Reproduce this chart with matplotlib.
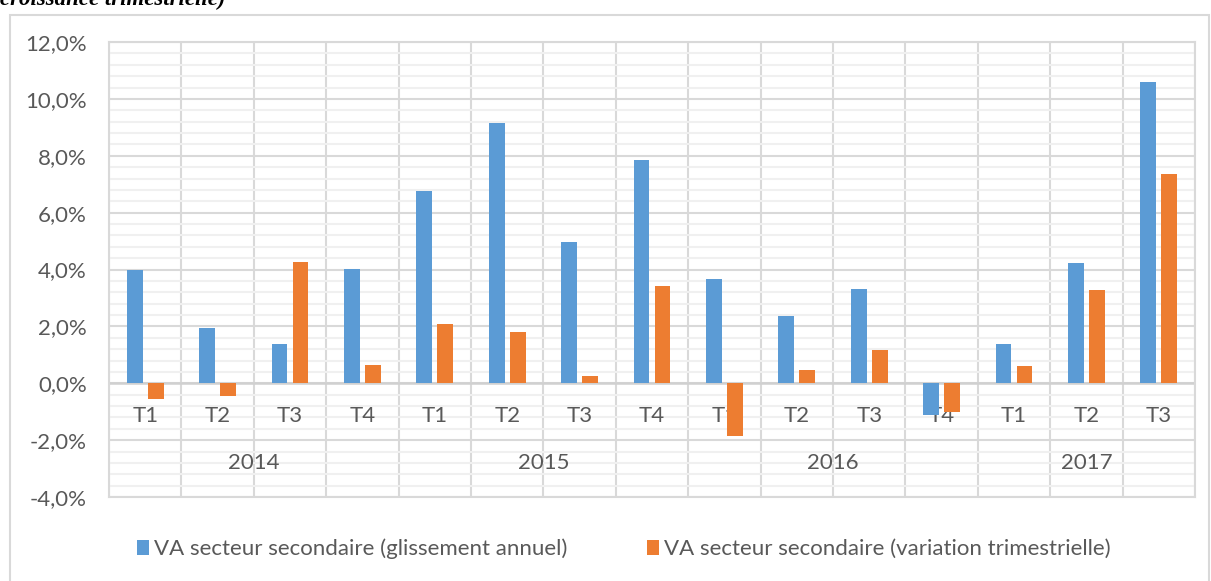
import matplotlib.pyplot as plt
from matplotlib.patches import Rectangle
import numpy as np

plt.rcParams['font.family'] = ['Lato', 'DejaVu Sans']

# donnees
annees = ["2014", "2015", "2016", "2017"]
trimestres = ["T1", "T2", "T3", "T4",
              "T1", "T2", "T3", "T4",
              "T1", "T2", "T3", "T4",
              "T1", "T2", "T3"]
glissement = [4.00, 1.93, 1.37, 4.02,
              6.77, 9.15, 4.95, 7.85,
              3.68, 2.36, 3.30, -1.10,
              1.38, 4.23, 10.60]
variation = [-0.55, -0.45, 4.25, 0.64,
             2.10, 1.80, 0.25, 3.43,
             -1.85, 0.48, 1.16, -1.01,
             0.62, 3.29, 7.35]
nb_trim = [4, 4, 4, 3]
yticks = [-4, -2, 0, 2, 4, 6, 8, 10, 12]
ytick_labels = ["-4,0%", "-2,0%", "0,0%", "2,0%", "4,0%", "6,0%", "8,0%", "10,0%", "12,0%"]
noms = ["VA secteur secondaire (glissement annuel)",
        "VA secteur secondaire (variation trimestrielle)"]

bleu = "#5B9BD5"
orange = "#ED7D31"
gris = "#595959"
taille = 16

W, H = 1211, 581
fig = plt.figure(figsize=(W / 100, H / 100), dpi=100)
ax = fig.add_axes([109 / W, 1 - 497 / H, (1195 - 109) / W, (497 - 42) / H])

x = np.arange(len(trimestres))
larg = 0.22
ax.bar(x - 0.145, glissement, larg, color=bleu, zorder=3, label=noms[0])
ax.bar(x + 0.145, variation, larg, color=orange, zorder=3, label=noms[1])

ax.set_xlim(-0.5, len(trimestres) - 0.5)
ax.set_ylim(-4, 12)

# grille
ax.set_yticks(yticks)
ax.set_yticklabels(ytick_labels)
ax.set_yticks(np.arange(-4, 12.01, 0.4), minor=True)
ax.set_xticks(np.arange(-0.5, len(trimestres), 1.0))
ax.set_xticklabels([])
ax.grid(axis='y', which='minor', color="#f0f0f0", lw=1.5, zorder=0)
ax.grid(axis='y', which='major', color="#d9d9d9", lw=1.5, zorder=1)
ax.grid(axis='x', which='major', color="#d9d9d9", lw=1.5, zorder=1)
ax.tick_params(axis='both', which='both', length=0)
ax.tick_params(axis='y', labelsize=taille, labelcolor=gris, pad=16)
for s in ax.spines.values():
    s.set_color("#d9d9d9")
    s.set_linewidth(1.5)
ax.axhline(0, color="#d0d0d0", lw=1.8, zorder=2)

# etiquettes de categories
for i, t in enumerate(trimestres):
    ax.text(i, -1.16, t, ha='center', va='center', fontsize=taille, color=gris, zorder=2)
debut = 0
for a, n in zip(annees, nb_trim):
    ax.text(debut + (n - 1) / 2, -2.81, a, ha='center', va='center',
            fontsize=taille, color=gris, zorder=2)
    debut += n

leg = fig.legend(loc='center', bbox_to_anchor=(0.515, 1 - 549 / H), ncol=2,
                 frameon=False, fontsize=taille, handlelength=0.55, handleheight=0.6,
                 handletextpad=0.2, columnspacing=3.6, labelcolor=gris)

# cadre du graphique
fig.patches.append(Rectangle((10 / W, -0.1), (1209 - 10) / W, 1.1 - 15 / H,
                             transform=fig.transFigure, fill=False,
                             edgecolor="#d9d9d9", lw=1.5))

fig.text(0, 1 - 5 / H, "croissance trimestrielle)", family='Liberation Serif',
         fontweight='bold', fontstyle='italic', fontsize=16.5, va='baseline', ha='left')

fig.savefig("out.png", dpi=100)
